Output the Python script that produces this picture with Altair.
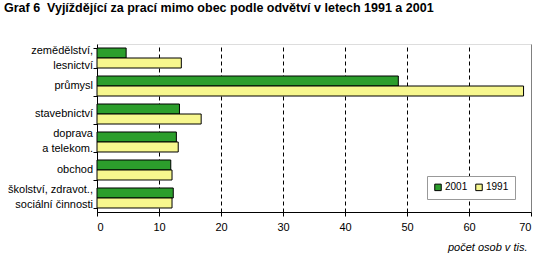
import altair as alt
import pandas as pd

categories = [
    "zemědělství, lesnictví",
    "průmysl",
    "stavebnictví",
    "doprava a telekom.",
    "obchod",
    "školství, zdravot., sociální činnosti",
]
label_top = ["zemědělství,", "", "", "doprava\u00a0", "", "školství, zdravot.,"]
label_bottom = ["lesnictví\u00a0\u00a0\u00a0", "", "", "a telekom.", "", "sociální činnosti\u00a0"]
label_single = ["", "průmysl", "stavebnictví", "", "obchod\u00a0", ""]
values_2001 = [4.7, 48.6, 13.3, 12.8, 11.9, 12.3]
values_1991 = [13.6, 68.8, 16.8, 13.1, 12.1, 12.1]
years = ["2001", "1991"]
x_ticks = [0, 10, 20, 30, 40, 50, 60, 70]

rows = []
for c, a, b in zip(categories, values_2001, values_1991):
    rows.append({"odvetvi": c, "rok": "2001", "pocet": a})
    rows.append({"odvetvi": c, "rok": "1991", "pocet": b})
df = pd.DataFrame(rows)

labels_df = pd.DataFrame(
    {"odvetvi": categories, "top": label_top, "bottom": label_bottom, "single": label_single}
)

FONT = "Liberation Sans"

y_enc = alt.Y(
    "odvetvi:N",
    sort=categories,
    scale=alt.Scale(paddingInner=0.2857, paddingOuter=0.1429),
    axis=alt.Axis(
        title=None,
        labels=False,
        tickBand="extent",
        tickColor="black",
        tickSize=4,
        domainColor="black",
        grid=False,
    ),
)

bars = (
    alt.Chart(df)
    .mark_bar(stroke="black", strokeWidth=1)
    .encode(
        x=alt.X(
            "pocet:Q",
            scale=alt.Scale(domain=[0, 70], nice=False, zero=True),
            axis=alt.Axis(
                values=x_ticks,
                title="počet osob v tis.",
                titleFontStyle="italic",
                titleFontWeight="normal",
                titleFont=FONT,
                titleFontSize=11,
                titleColor="black",
                titleAlign="right",
                titleAnchor="end",
                titleX=430,
                titleY=38,
                titleBaseline="alphabetic",
                labelFont=FONT,
                labelFontSize=11,
                labelColor="black",
                labelPadding=5,
                tickColor="black",
                tickSize=4,
                domainColor="black",
                grid=True,
                gridColor={"condition": {"test": "datum.value === 70", "value": "#808080"}, "value": "black"},
                gridDash={"condition": {"test": "datum.value === 70", "value": []}, "value": [4, 3]},
                gridOpacity=1,
            ),
        ),
        y=y_enc,
        yOffset=alt.YOffset("rok:N", sort=years),
        fill=alt.Fill(
            "rok:N",
            scale=alt.Scale(domain=years, range=["#2c9e2c", "#f7f78e"]),
            legend=alt.Legend(
                title=None,
                orient="none",
                legendX=330,
                legendY=132,
                direction="horizontal",
                symbolType="square",
                symbolSize=42,
                symbolStrokeColor="black",
                symbolStrokeWidth=1,
                labelFont=FONT,
                labelFontSize=10,
                labelColor="black",
                strokeColor="#999999",
                padding=6,
                columnPadding=5,
                labelOffset=2,
                fillColor="white",
            ),
        ),
    )
)

base_text = alt.Chart(labels_df).encode(y=alt.Y("odvetvi:N", sort=categories), x=alt.value(-4))
text_kw = dict(align="right", baseline="middle", font=FONT, fontSize=11, color="black")
t_top = base_text.mark_text(dy=-7.5, **text_kw).encode(text="top:N")
t_bottom = base_text.mark_text(dy=7.5, **text_kw).encode(text="bottom:N")
t_single = base_text.mark_text(dy=0, **text_kw).encode(text="single:N")

chart = (
    alt.layer(bars, t_top, t_bottom, t_single)
    .properties(
        width=434,
        height=168,
        autosize=alt.AutoSizeParams(type="none"),
        padding={"left": 97, "top": 44, "right": 29, "bottom": 61},
        title=alt.TitleParams(
            text="Graf 6\u00a0 Vyjíždějící za prací mimo obec podle odvětví v letech 1991 a 2001",
            font=FONT,
            fontSize=12.5,
            fontWeight="bold",
            color="black",
            anchor="start",
            frame="group",
            baseline="alphabetic",
            dx=-93,
            offset=20,
        ),
    )
    .configure_view(stroke="#808080", strokeWidth=1)
    .configure(background="white")
)

chart.save("out.html", embed_options={"renderer": "svg", "actions": False})
